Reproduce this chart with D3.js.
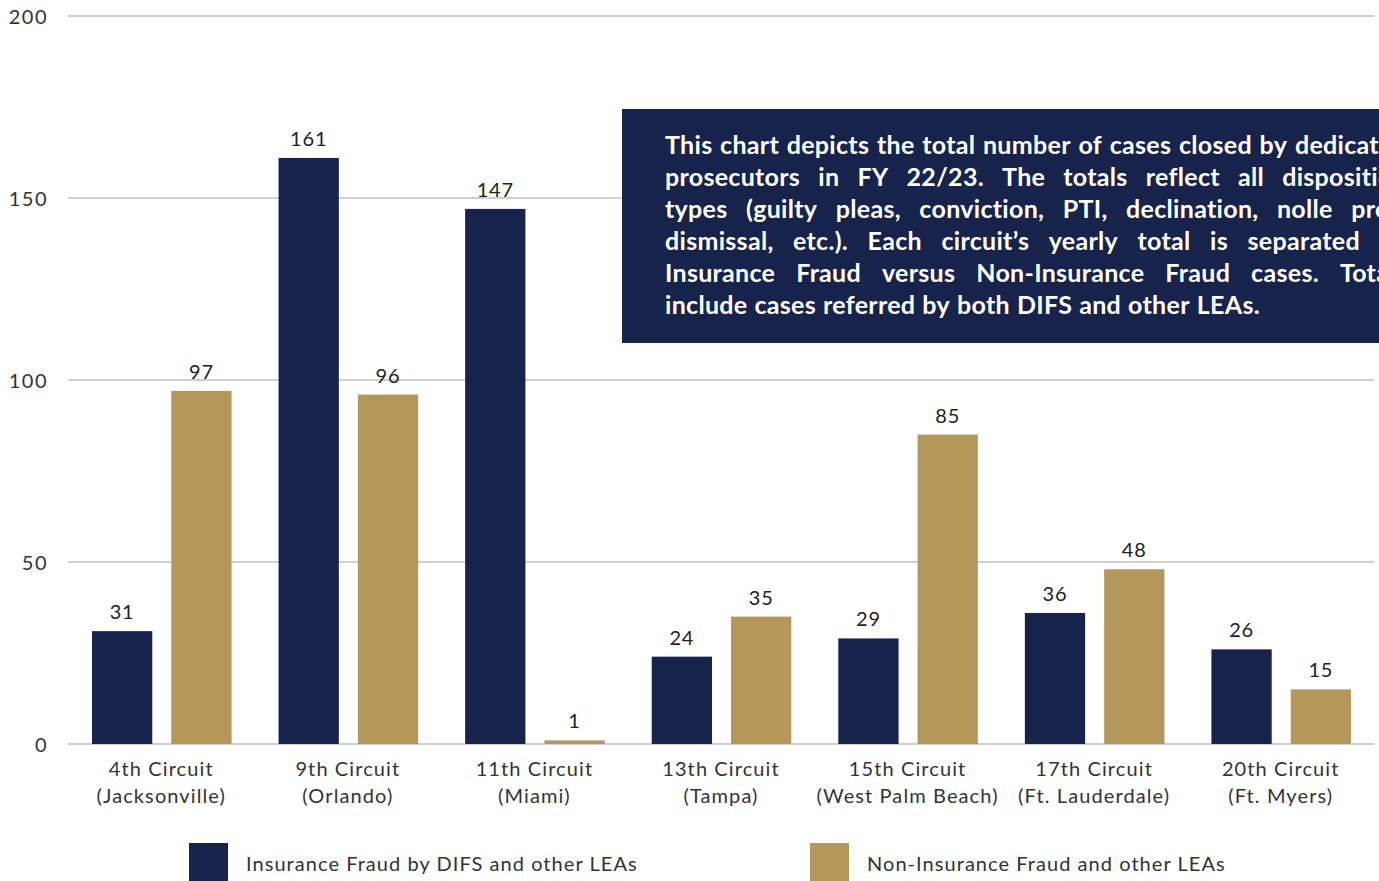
<!DOCTYPE html>
<html>
<head>
<meta charset="utf-8">
<script src="https://cdn.jsdelivr.net/npm/d3@7"></script>
<style>
  html, body { margin: 0; padding: 0; background: #fff; overflow: hidden; }
  svg { display: block; font-family: Lato, "Open Sans", sans-serif; }
</style>
</head>
<body>
<svg id="chart" width="1379" height="881"></svg>
<script>
var categories = ["4th Circuit", "9th Circuit", "11th Circuit", "13th Circuit", "15th Circuit", "17th Circuit", "20th Circuit"];
var cities = ["(Jacksonville)", "(Orlando)", "(Miami)", "(Tampa)", "(West Palm Beach)", "(Ft. Lauderdale)", "(Ft. Myers)"];
var seriesNames = ["Insurance Fraud by DIFS and other LEAs", "Non-Insurance Fraud and other LEAs"];
var insurance = [31, 161, 147, 24, 29, 36, 26];
var nonInsurance = [97, 96, 1, 35, 85, 48, 15];
var yTicks = [0, 50, 100, 150, 200];
var noteLines = [
  "This chart depicts the total number of cases closed by dedicated",
  "prosecutors in FY 22/23. The totals reflect all disposition",
  "types (guilty pleas, conviction, PTI, declination, nolle pros,",
  "dismissal, etc.). Each circuit\u2019s yearly total is separated by",
  "Insurance Fraud versus Non-Insurance Fraud cases. Totals",
  "include cases referred by both DIFS and other LEAs."
];

var navy = "#17234b", gold = "#b4975a";
var colors = [navy, gold];

var svg = d3.select("#chart");
var plotLeft = 68, plotRight = 1374, plotTop = 16, plotBottom = 744;

var y = d3.scaleLinear().domain([0, 200]).range([plotBottom, plotTop]);
var x0 = d3.scaleBand().domain(categories).range([plotLeft, plotRight]).padding(0);
var x1 = d3.scaleBand().domain([0, 1]).range([24, x0.bandwidth() - 23]).paddingInner(0.24);

// grid
svg.append("g")
  .selectAll("line")
  .data(yTicks)
  .enter().append("line")
  .attr("x1", plotLeft).attr("x2", plotRight)
  .attr("y1", function(d) { return y(d); })
  .attr("y2", function(d) { return y(d); })
  .style("stroke", "#cfcfcf")
  .style("stroke-width", 2);

svg.append("g")
  .selectAll("text")
  .data(yTicks)
  .enter().append("text")
  .attr("x", 48)
  .attr("y", function(d) { return y(d) + 8; })
  .attr("text-anchor", "end")
  .style("font-size", "20px")
  .style("letter-spacing", "1.5px")
  .style("fill", "#333")
  .text(function(d) { return d; });

// bars
var rows = categories.map(function(c, i) { return { cat: c, vals: [insurance[i], nonInsurance[i]] }; });

var group = svg.append("g")
  .selectAll("g")
  .data(rows)
  .enter().append("g")
  .attr("transform", function(d) { return "translate(" + x0(d.cat) + ",0)"; });

group.selectAll("rect")
  .data(function(d) { return d.vals; })
  .enter().append("rect")
  .attr("x", function(d, i) { return x1(i); })
  .attr("width", x1.bandwidth())
  .attr("y", function(d) { return y(d); })
  .attr("height", function(d) { return plotBottom - y(d); })
  .style("fill", function(d, i) { return colors[i]; });

group.selectAll("text.val")
  .data(function(d) { return d.vals; })
  .enter().append("text")
  .attr("class", "val")
  .attr("x", function(d, i) { return x1(i) + x1.bandwidth() / 2; })
  .attr("y", function(d) { return y(d) - 12; })
  .attr("text-anchor", "middle")
  .style("font-size", "20px")
  .style("letter-spacing", "0.8px")
  .style("fill", "#222")
  .text(function(d) { return d; });

// category labels
var catLabel = svg.append("g")
  .selectAll("text")
  .data(categories)
  .enter().append("text")
  .attr("text-anchor", "middle")
  .attr("x", function(d) { return x0(d) + x0.bandwidth() / 2; })
  .style("font-size", "20px")
  .style("letter-spacing", "1.1px")
  .style("fill", "#333");
catLabel.append("tspan").attr("y", 776).attr("x", function(d) { return x0(d) + x0.bandwidth() / 2; }).text(function(d) { return d; });
catLabel.append("tspan").attr("y", 803).attr("x", function(d) { return x0(d) + x0.bandwidth() / 2; }).text(function(d, i) { return cities[i]; });

// legend
var legendX = [189, 810];
var legend = svg.append("g")
  .selectAll("g")
  .data(seriesNames)
  .enter().append("g")
  .attr("transform", function(d, i) { return "translate(" + legendX[i] + ",843)"; });
legend.append("rect")
  .attr("width", 39).attr("height", 40)
  .style("fill", function(d, i) { return colors[i]; });
legend.append("text")
  .attr("x", 57).attr("y", 28)
  .style("font-size", "20px")
  .style("letter-spacing", "1.05px")
  .style("fill", "#333")
  .text(function(d) { return d; });

// note box
var boxX = 622, boxY = 109, textX = 665, lineW = 742;
svg.append("rect")
  .attr("x", boxX).attr("y", boxY)
  .attr("width", 830).attr("height", 234)
  .style("fill", navy);

var note = svg.append("g").style("font-size", "25px").style("font-weight", "bold")
  .style("letter-spacing", "0.3px").style("fill", "#fff");
noteLines.forEach(function(line, li) {
  var words = line.split(" ");
  var by = 154 + li * 32;
  var ws = words.map(function(w) {
    return note.append("text").attr("y", by).text(w);
  });
  var widths = ws.map(function(t) { return t.node().getComputedTextLength(); });
  var total = d3.sum(widths);
  var gap = (li === noteLines.length - 1) ? 7 : Math.max(4, (lineW - total) / (words.length - 1));
  var cx = textX;
  ws.forEach(function(t, k) {
    t.attr("x", cx);
    cx += widths[k] + gap;
  });
});
</script>
</body>
</html>
